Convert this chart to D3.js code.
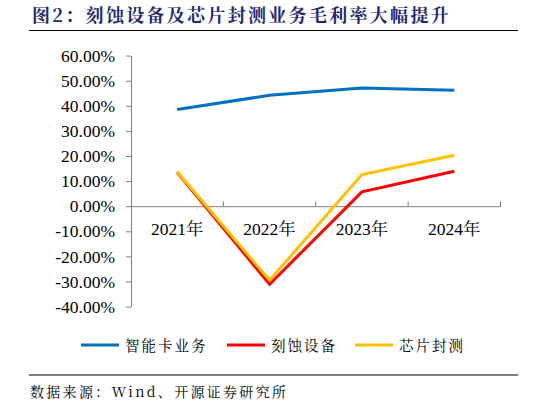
<!DOCTYPE html>
<html>
<head>
<meta charset="utf-8">
<script src="https://cdn.jsdelivr.net/npm/d3@7"></script>
<style>
  body { margin:0; background:#fff; }
  svg { display:block; }
</style>
</head>
<body>
<div id="chart"></div>
<script>
// data
var years = ['2021年', '2022年', '2023年', '2024年'];
var smartCard = [38.5, 44.2, 47.1, 46.2];
var etching = [13.5, -31.1, 5.7, 13.9];
var packaging = [13.7, -29.5, 12.6, 20.3];
var seriesNames = ['智能卡业务', '刻蚀设备', '芯片封测'];
var yTicks = [60, 50, 40, 30, 20, 10, 0, -10, -20, -30, -40];

var colors = ['#0070C0', '#FF0000', '#FFC000'];
var series = [smartCard, etching, packaging];

var width = 546, height = 405;
var numFont = '"Liberation Serif","Noto Serif CJK SC",serif';
var songFont = '"Noto Serif CJK SC","Liberation Serif",serif';

var svg = d3.select('#chart').append('svg')
    .attr('width', width)
    .attr('height', height);

// title
svg.append('text')
    .attr('x', 32).attr('y', 21.5)
    .attr('fill', '#1F2870')
    .style('font-family', songFont)
    .style('font-weight', 'bold')
    .style('font-size', '18px')
    .style('letter-spacing', '2.3px')
    .text('图2：刻蚀设备及芯片封测业务毛利率大幅提升');

svg.append('line')
    .attr('x1', 29).attr('x2', 518).attr('y1', 30.5).attr('y2', 30.5)
    .attr('stroke', '#000').attr('stroke-width', 1);

// scales
var yScale = d3.scaleLinear()
    .domain([-40, 60])
    .range([306.6, 55.6]);

var xScale = d3.scaleBand()
    .domain(years)
    .range([131, 500.5]);

// y axis
var yAxis = svg.append('g')
    .attr('transform', 'translate(131,0)')
    .call(d3.axisLeft(yScale).tickValues(yTicks).tickSize(5).tickSizeOuter(0)
        .tickFormat(function(d){ return d.toFixed(2) + '%'; }));
yAxis.attr('font-family', null).attr('font-size', null);
yAxis.select('.domain').attr('stroke', '#808080');
yAxis.selectAll('.tick line').attr('stroke', '#808080');
yAxis.selectAll('.tick text')
    .attr('x', -16)
    .attr('fill', '#000')
    .style('font-family', numFont)
    .style('font-size', '17.5px');

// x axis at zero
var xAxis = svg.append('g')
    .attr('transform', 'translate(0,' + yScale(0) + ')')
    .call(d3.axisBottom(xScale).tickSize(0).tickSizeOuter(0));
xAxis.attr('font-family', null).attr('font-size', null);
xAxis.select('.domain').attr('stroke', '#808080');
xAxis.selectAll('.tick text')
    .attr('y', 16)
    .attr('fill', '#000')
    .style('font-family', numFont)
    .style('font-size', '17.5px');

// x band boundary ticks
var bounds = years.map(function(d){ return xScale(d) + xScale.bandwidth(); });
svg.append('g').selectAll('line')
    .data(bounds)
    .enter().append('line')
    .attr('x1', function(d){ return d; })
    .attr('x2', function(d){ return d; })
    .attr('y1', yScale(0))
    .attr('y2', yScale(0) - 5)
    .attr('stroke', '#808080');

// lines
var line = d3.line()
    .x(function(d, i){ return xScale(years[i]) + xScale.bandwidth() / 2; })
    .y(function(d){ return yScale(d); });

svg.append('g').selectAll('path')
    .data(series)
    .enter().append('path')
    .attr('d', function(d){ return line(d); })
    .attr('fill', 'none')
    .attr('stroke', function(d, i){ return colors[i]; })
    .attr('stroke-width', 3)
    .attr('stroke-linejoin', 'miter');

// legend
var legendX = [81, 227, 355];
var legend = svg.append('g').selectAll('g')
    .data(seriesNames)
    .enter().append('g')
    .attr('transform', function(d, i){ return 'translate(' + legendX[i] + ',345)'; });
legend.append('line')
    .attr('x1', 0).attr('x2', 38)
    .attr('stroke', function(d, i){ return colors[i]; })
    .attr('stroke-width', 3);
legend.append('text')
    .attr('x', 44).attr('y', 5.5)
    .attr('fill', '#000')
    .style('font-family', songFont)
    .style('font-size', '14.5px')
    .style('letter-spacing', '2px')
    .text(function(d){ return d; });

// source
svg.append('line')
    .attr('x1', 29).attr('x2', 518).attr('y1', 375).attr('y2', 375)
    .attr('stroke', '#000').attr('stroke-width', 1);
svg.append('text')
    .attr('x', 30).attr('y', 397)
    .attr('fill', '#000')
    .style('font-family', songFont)
    .style('font-size', '14px')
    .style('letter-spacing', '2.3px')
    .text('数据来源：Wind、开源证券研究所');
</script>
</body>
</html>
